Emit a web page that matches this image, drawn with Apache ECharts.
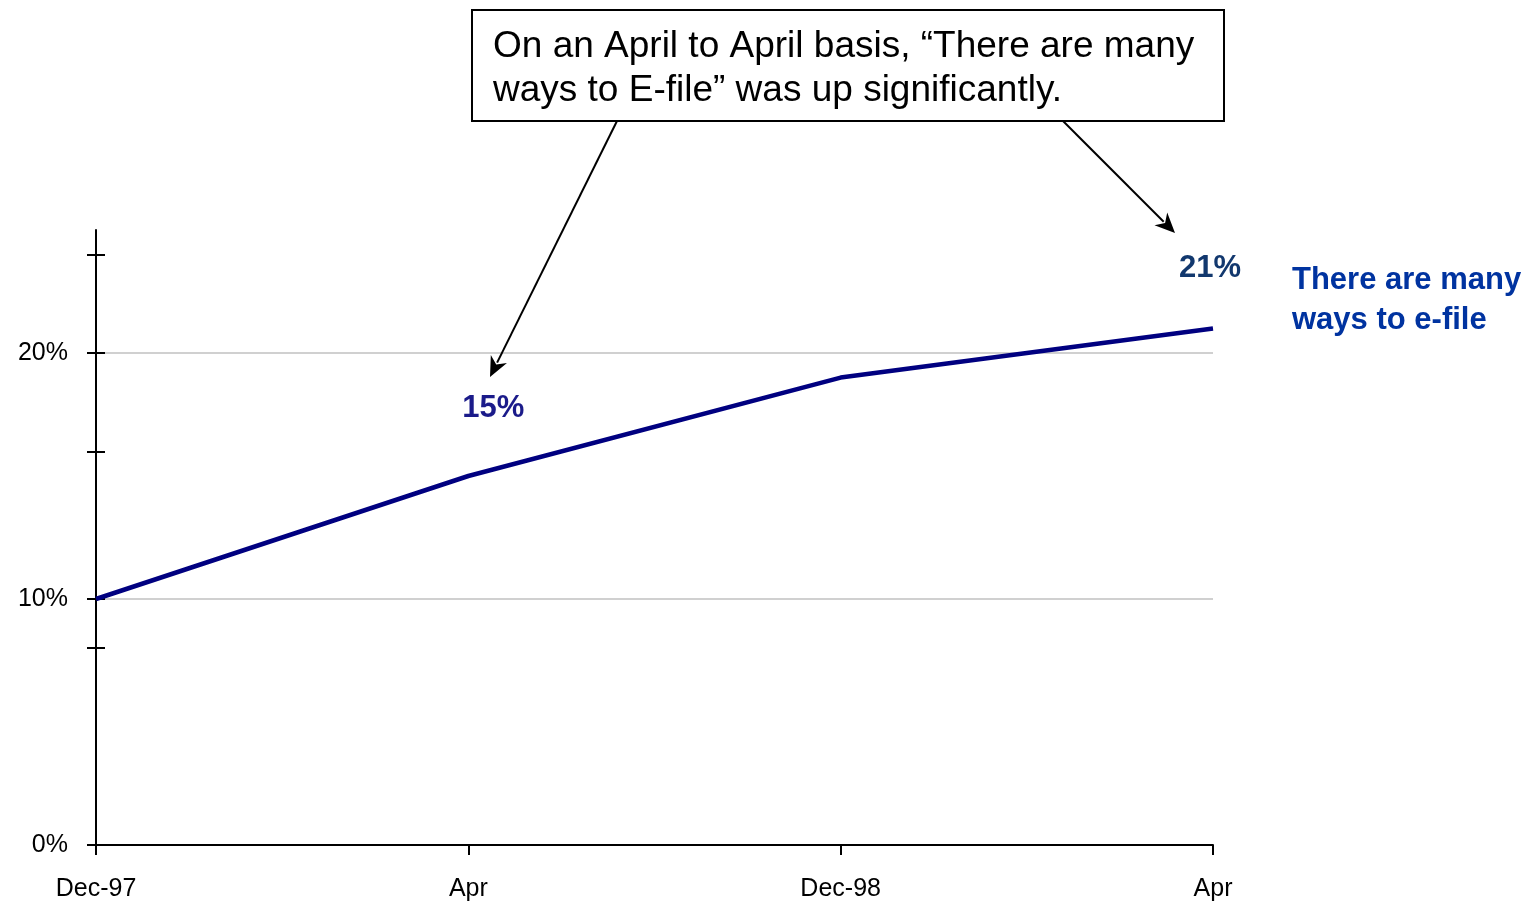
<!DOCTYPE html>
<html>
<head>
<meta charset="utf-8">
<script src="https://cdn.jsdelivr.net/npm/echarts@6/dist/echarts.min.js"></script>
<style>
html,body{margin:0;padding:0;background:#fff;}
#chart{width:1535px;height:902px;}
</style>
</head>
<body>
<div id="chart"></div>
<script>
var categories = ['Dec-97', 'Apr', 'Dec-98', 'Apr'];
var seriesName = 'There are many ways to e-file';
var values = [10, 15, 19, 21];
var yLabelTicks = [0, 10, 20];
var yMinorTicks = [8, 16, 24];
var boxText = 'On an April to April basis, \u201cThere are many\nways to E-file\u201d was up significantly.';

var FONT = '"Liberation Sans", Arial, sans-serif';

var dataItems = values.map(function (v, i) {
  var item = { value: v };
  if (i === 1) {
    item.label = { show: true, offset: [25, -68], color: '#1b1b8a' };
  } else if (i === 3) {
    item.label = { show: true, offset: [-3, -60], color: '#12386e' };
  }
  return item;
});

function arrow(x1, y1, x2, y2) {
  var dx = x2 - x1, dy = y2 - y1, len = Math.sqrt(dx * dx + dy * dy);
  var ux = dx / len, uy = dy / len;
  var hl = 20, hw = 9;
  var bx = x2 - ux * hl, by = y2 - uy * hl;
  return [
    { type: 'line', shape: { x1: x1, y1: y1, x2: bx + ux * 4, y2: by + uy * 4 }, style: { stroke: '#000', lineWidth: 2 }, z: 100 },
    { type: 'polygon', shape: { points: [[x2, y2], [bx - uy * hw, by + ux * hw], [bx + ux * 6, by + uy * 6], [bx + uy * hw, by - ux * hw]] }, style: { fill: '#000' }, z: 100 }
  ];
}

var chart = echarts.init(document.getElementById('chart'), null, { renderer: 'canvas' });
var option = {
  animation: false,
  backgroundColor: '#fff',
  grid: { left: 96, right: 322, top: 230, bottom: 57, containLabel: false },
  xAxis: {
    type: 'category',
    data: categories,
    boundaryGap: false,
    axisLine: { lineStyle: { color: '#000', width: 2 } },
    axisTick: { show: true, length: 10, lineStyle: { color: '#000', width: 2 } },
    axisLabel: { color: '#000', fontSize: 25, fontFamily: FONT, margin: 32 },
    splitLine: { show: false }
  },
  yAxis: [
    {
      type: 'value', min: 0, max: 25, position: 'left',
      axisLine: { show: true, lineStyle: { color: '#000', width: 2 } },
      axisTick: { show: true, length: 9, customValues: yLabelTicks.concat(yMinorTicks), lineStyle: { color: '#000', width: 2 } },
      axisLabel: { show: true, customValues: yLabelTicks, formatter: '{value}%', color: '#000', fontSize: 25, fontFamily: FONT, margin: 28 },
      splitLine: { show: false }
    },
    {
      type: 'value', min: 0, max: 25, position: 'left',
      axisLine: { show: false },
      axisTick: { show: true, inside: true, length: 9, customValues: yLabelTicks.slice(1).concat(yMinorTicks), lineStyle: { color: '#000', width: 2 } },
      axisLabel: { show: false },
      splitLine: { show: false }
    },
    {
      type: 'value', min: 0, max: 25, interval: 10, position: 'left',
      axisLine: { show: false },
      axisTick: { show: false },
      axisLabel: { show: false },
      splitLine: { show: true, showMinLine: false, showMaxLine: false, lineStyle: { color: '#c0c0c0', width: 1.5 } }
    }
  ],
  series: [{
    name: seriesName,
    type: 'line',
    yAxisIndex: 0,
    data: dataItems,
    symbol: 'circle',
    symbolSize: 0.1,
    showSymbol: true,
    itemStyle: { color: '#000080' },
    lineStyle: { color: '#000080', width: 4.5 },
    label: {
      show: false, position: 'inside',
      formatter: '{c}%',
      fontFamily: FONT, fontSize: 31, fontWeight: 'bold'
    },
    z: 10
  }],
  graphic: [
    { type: 'rect', shape: { x: 472, y: 10, width: 752, height: 111 }, style: { fill: '#fff', stroke: '#000', lineWidth: 2 }, z: 100 },
    { type: 'text', x: 493, y: 25, style: { text: boxText, font: '37px ' + FONT, fill: '#000', lineHeight: 44 }, z: 101 },
    { type: 'text', x: 1292, y: 260, style: { text: 'There are many\nways to e-file', font: 'bold 31px ' + FONT, fill: '#0033a0', lineHeight: 40 }, z: 101 }
  ].concat(arrow(617, 121, 490, 377)).concat(arrow(1063, 121, 1175, 233))
};
chart.setOption(option);
</script>
</body>
</html>
